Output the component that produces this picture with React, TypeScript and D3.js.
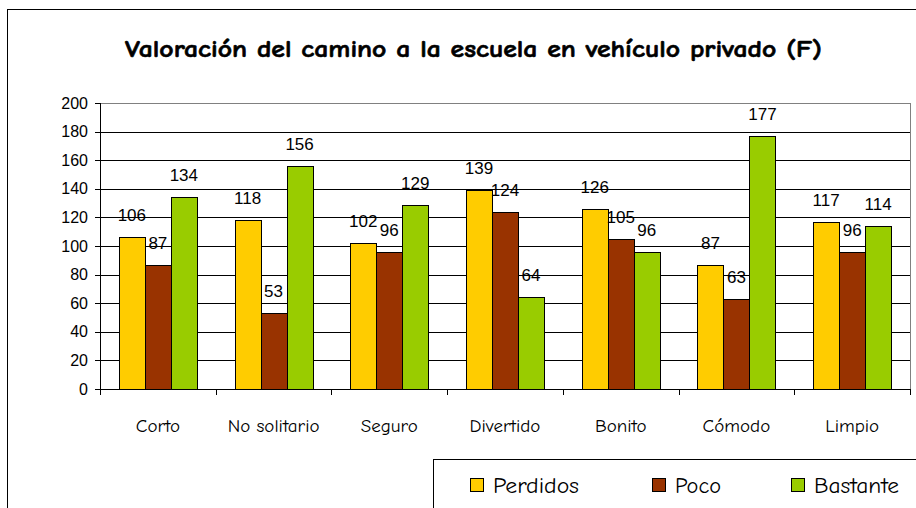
import React from "react";
import * as d3 from "d3";

const categories = ["Corto", "No solitario", "Seguro", "Divertido", "Bonito", "Cómodo", "Limpio"];
const seriesNames = ["Perdidos", "Poco", "Bastante"];
const perdidos = [106, 118, 102, 139, 126, 87, 117];
const poco = [87, 53, 96, 124, 105, 63, 96];
const bastante = [134, 156, 129, 64, 96, 177, 114];
const colors = ["#FFCC00", "#993300", "#99CC00"];
const yTicks = [0, 20, 40, 60, 80, 100, 120, 140, 160, 180, 200];
const title = "Valoración del camino a la escuela en vehículo privado (F)";

const W = 916, H = 508;
const left = 100, right = 910, top = 103, bottom = 389;
const comic = "'Comic Sans MS', 'Comic Neue', 'Open Sans', 'DejaVu Sans', sans-serif";
const arial = "Arial, 'Liberation Sans', sans-serif";

export default function App() {
  const series = [perdidos, poco, bastante];
  const x0 = d3.scaleBand<string>().domain(categories).range([left, right]).paddingInner(0).paddingOuter(0);
  const groupW = 78;
  const x1 = d3.scaleBand<string>().domain(seriesNames).range([0, groupW]);
  const y = d3.scaleLinear().domain([0, 200]).range([bottom, top]);
  const bw = x0.bandwidth();
  const legendX = [470, 652, 791];
  const legendLen = [86, 46, 85];

  return (
    <svg width={W} height={H} style={{ position: "absolute", left: 0, top: 0, background: "#fff" }}>
      <rect x={7.5} y={9.5} width={W} height={H} fill="#fff" stroke="#000" strokeWidth={1} />
      <text x={125} y={57} textAnchor="start" fontFamily={comic} fontWeight="bold" fontSize={24}
        stroke="#000" strokeWidth={0.6}
        textLength={697} lengthAdjust="spacingAndGlyphs">{title}</text>
      {/* gridlines */}
      {yTicks.map((t) => (
        <line key={t} x1={left} x2={right} y1={Math.round(y(t)) + 0.5} y2={Math.round(y(t)) + 0.5}
          stroke={t === 200 ? "#808080" : "#000"} strokeWidth={1} />
      ))}
      <line x1={right + 0.5} x2={right + 0.5} y1={top} y2={bottom} stroke="#808080" />
      {/* bars */}
      {categories.map((c, i) => {
        const gx = (x0(c) as number) + (bw - groupW) / 2;
        return (
          <g key={c}>
            {series.map((s, k) => {
              const bx = gx + (x1(seriesNames[k]) as number);
              const by = y(s[i]);
              return (
                <rect key={k} x={Math.round(bx) + 0.5} y={Math.round(by) + 0.5}
                  width={Math.round(x1.bandwidth())} height={Math.round(bottom - by)}
                  fill={colors[k]} stroke="#000" strokeWidth={1} />
              );
            })}
          </g>
        );
      })}
      {/* data labels */}
      {categories.map((c, i) => {
        const gx = (x0(c) as number) + (bw - groupW) / 2;
        return series.map((s, k) => {
          const cx = gx + (x1(seriesNames[k]) as number) + x1.bandwidth() / 2;
          return (
            <text key={c + k} x={cx} y={y(s[i]) - 16} textAnchor="middle" fontFamily={arial} fontSize={17} fill="#000">
              {s[i]}
            </text>
          );
        });
      })}
      {/* axes */}
      <line x1={left + 0.5} x2={left + 0.5} y1={top} y2={bottom + 1} stroke="#000" />
      <line x1={left} x2={right + 1} y1={bottom + 0.5} y2={bottom + 0.5} stroke="#000" />
      {yTicks.map((t) => (
        <g key={"t" + t}>
          <line x1={left - 5} x2={left} y1={Math.round(y(t)) + 0.5} y2={Math.round(y(t)) + 0.5} stroke="#000" />
          <text x={88} y={y(t) + 5.5} textAnchor="end" fontFamily={arial} fontSize={16}>{t}</text>
        </g>
      ))}
      {categories.map((c, i) => (
        <line key={"xt" + i} x1={Math.round(x0(c) as number) + 0.5} x2={Math.round(x0(c) as number) + 0.5}
          y1={bottom} y2={bottom + 6} stroke="#000" />
      ))}
      <line x1={right + 0.5} x2={right + 0.5} y1={bottom} y2={bottom + 6} stroke="#000" />
      {categories.map((c) => (
        <text key={"c" + c} x={(x0(c) as number) + bw / 2} y={432} textAnchor="middle" fontFamily={comic} fontSize={19}>
          {c}
        </text>
      ))}
      {/* legend */}
      <rect x={433.5} y={459.5} width={500} height={60} fill="#fff" stroke="#000" />
      {seriesNames.map((n, k) => {
        const lx = legendX[k];
        return (
          <g key={n}>
            <rect x={lx + 0.5} y={478.5} width={13} height={13} fill={colors[k]} stroke="#000" />
            <text x={lx + 23} y={493} fontFamily={comic} fontSize={22}
              textLength={legendLen[k]} lengthAdjust="spacingAndGlyphs">{n}</text>
          </g>
        );
      })}
    </svg>
  );
}
